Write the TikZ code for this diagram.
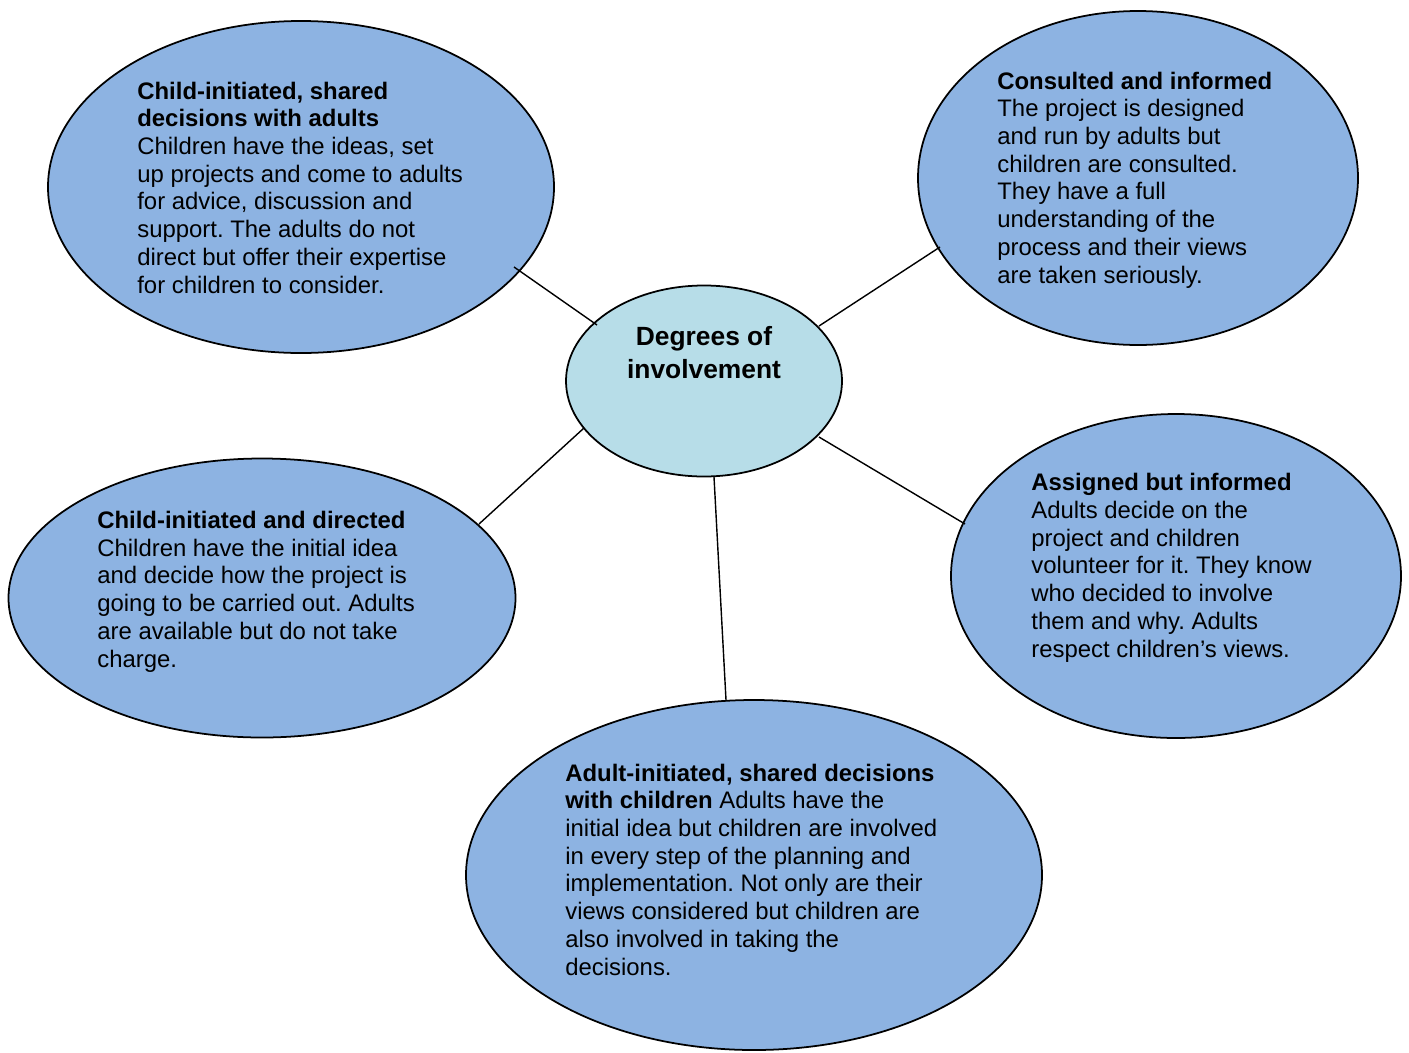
\documentclass[tikz,border=0pt]{standalone}
\usepackage{fontspec}
\setmainfont{Liberation Sans}
\frenchspacing
\usetikzlibrary{shapes.geometric}
\definecolor{blobblue}{RGB}{141,179,226}
\definecolor{hubblue}{RGB}{183,221,232}
\tikzset{
    blob/.style={ellipse, draw, line width=1pt, fill=blobblue, inner sep=0pt},
    hub/.style={ellipse, draw, line width=1pt, fill=hubblue, inner sep=0pt},
    txt/.style={anchor=base west, align=left, inner sep=0pt, font=\fontsize{13.6}{15.75}\selectfont},
}
\begin{document}
\begin{tikzpicture}
    \useasboundingbox (0,0) rectangle (28.18,-21.04);

    \node[blob, minimum width=10.12cm, minimum height=6.64cm] at (6.02, -3.74) (childshared) {};
    \node[blob, minimum width=8.8cm, minimum height=6.68cm] at (22.76, -3.56) (consulted) {};
    \node[blob, minimum width=10.14cm, minimum height=5.58cm] at (5.24, -11.96) (childdirected) {};
    \node[blob, minimum width=9cm, minimum height=6.48cm] at (23.52, -11.52) (assigned) {};
    \node[blob, minimum width=11.52cm, minimum height=7cm] at (15.08, -17.5) (adultshared) {};
    \node[hub, minimum width=5.52cm, minimum height=3.82cm] at (14.08, -7.62) (degrees) {};

    \coordinate (childshared_e) at (10.28, -5.34);
    \coordinate (degrees_nw) at (11.94, -6.5);
    \coordinate (degrees_ne) at (16.38, -6.52);
    \coordinate (consulted_e) at (18.8, -4.94);
    \coordinate (degrees_sw) at (11.68, -8.56);
    \coordinate (childdirected_e) at (9.58, -10.48);
    \coordinate (degrees_se) at (16.38, -8.74);
    \coordinate (assigned_e) at (19.3, -10.48);
    \coordinate (degrees_s) at (14.28, -9.54);
    \coordinate (adultshared_e) at (14.52, -14.0);

    \path[line width=0.8pt]
        (childshared_e) edge (degrees_nw)
        (degrees_ne) edge (consulted_e)
        (degrees_sw) edge (childdirected_e)
        (degrees_se) edge (assigned_e)
        (degrees_s) edge (adultshared_e);

    \node[align=center, inner sep=0pt, font=\fontsize{15}{18.6}\bfseries] at (14.08, -7.05) (degrees_t)
        {Degrees of\\involvement};

    % anchored at the baseline of the last line
    \node[txt] at (2.74, -5.86) (childshared_t) {\textbf{Child-initiated, shared}\\
        \textbf{decisions with adults}\\
        Children have the ideas, set\\
        up projects and come to adults\\
        for advice, discussion and\\
        support. The adults do not\\
        direct but offer their expertise\\
        for children to consider.};
    \node[txt] at (19.94, -5.66) (consulted_t) {\textbf{Consulted and informed}\\
        The project is designed\\
        and run by adults but\\
        children are consulted.\\
        They have a full\\
        understanding of the\\
        process and their views\\
        are taken seriously.};
    \node[txt] at (1.94, -13.34) (childdirected_t) {\textbf{Child-initiated and directed}\\
        Children have the initial idea\\
        and decide how the project is\\
        going to be carried out. Adults\\
        are available but do not take\\
        charge.};
    \node[txt] at (20.62, -13.14) (assigned_t) {\textbf{Assigned but informed}\\
        Adults decide on the\\
        project and children\\
        volunteer for it. They know\\
        who decided to involve\\
        them and why. Adults\\
        respect children’s views.};
    \node[txt] at (11.3, -19.5) (adultshared_t) {\textbf{Adult-initiated, shared decisions}\\
        \textbf{with children} Adults have the\\
        initial idea but children are involved\\
        in every step of the planning and\\
        implementation. Not only are their\\
        views considered but children are\\
        also involved in taking the\\
        decisions.};
\end{tikzpicture}
\end{document}
